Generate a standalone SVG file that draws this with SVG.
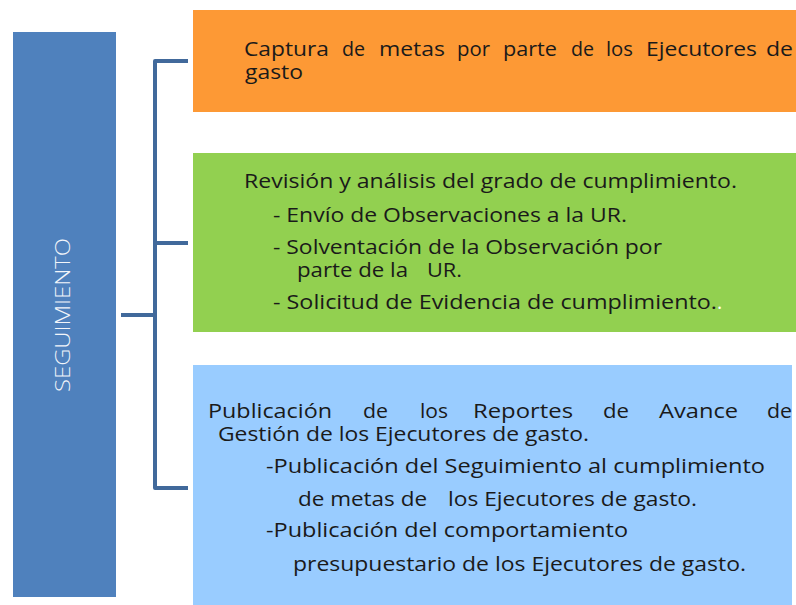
<svg xmlns="http://www.w3.org/2000/svg" width="796" height="605" viewBox="0 0 796 605">
<style>
.t{font-family:"Open Sans","Liberation Sans",sans-serif;font-size:20px;fill:#1a1a1a;white-space:pre}
.side{font-family:"Open Sans","Liberation Sans",sans-serif;font-size:20px;fill:#f2f5fa;font-weight:300}
.con{fill:none;stroke:#41699b;stroke-width:4;stroke-linejoin:round}
</style>
<rect width="796" height="605" fill="#ffffff"/>
<g id="seguimiento">
<rect x="13" y="32" width="103" height="565" fill="#4f81bd"/>
<text class="side" transform="translate(70,315) rotate(-90)" text-anchor="middle" textLength="154" lengthAdjust="spacingAndGlyphs">SEGUIMIENTO</text>
</g>
<g id="connectors">
<path class="con" d="M188,61 H155 V488 H188"/>
<path class="con" d="M155,243 H188"/>
<path class="con" d="M121,315 H155"/>
</g>
<g id="captura">
<rect x="193" y="10" width="603" height="102" fill="#fd9935"/>
<text class="t" y="56"><tspan x="244" textLength="85" lengthAdjust="spacingAndGlyphs">Captura</tspan><tspan x="342" textLength="23" lengthAdjust="spacingAndGlyphs">de</tspan><tspan x="379" textLength="66" lengthAdjust="spacingAndGlyphs">metas</tspan><tspan x="457" textLength="33" lengthAdjust="spacingAndGlyphs">por</tspan><tspan x="503" textLength="54" lengthAdjust="spacingAndGlyphs">parte</tspan><tspan x="571" textLength="23" lengthAdjust="spacingAndGlyphs">de</tspan><tspan x="606" textLength="27" lengthAdjust="spacingAndGlyphs">los</tspan><tspan x="646" textLength="111" lengthAdjust="spacingAndGlyphs">Ejecutores</tspan><tspan x="766" textLength="27" lengthAdjust="spacingAndGlyphs">de</tspan></text>
<text class="t" x="245" y="79" textLength="58" lengthAdjust="spacingAndGlyphs">gasto</text>
</g>
<g id="revision">
<rect x="193" y="153" width="603" height="179" fill="#92d050"/>
<text class="t" x="244" y="188" textLength="493" lengthAdjust="spacingAndGlyphs">Revisión y análisis del grado de cumplimiento.</text>
<text class="t" x="273" y="222" textLength="354" lengthAdjust="spacingAndGlyphs">- Envío de Observaciones a la UR.</text>
<text class="t" x="273" y="254" textLength="389" lengthAdjust="spacingAndGlyphs">- Solventación de la Observación por</text>
<text class="t" y="277"><tspan x="297" textLength="111" lengthAdjust="spacingAndGlyphs">parte de la</tspan><tspan x="427" textLength="35" lengthAdjust="spacingAndGlyphs">UR.</tspan></text>
<text class="t" x="273" y="309"><tspan textLength="444" lengthAdjust="spacingAndGlyphs">- Solicitud de Evidencia de cumplimiento.</tspan><tspan fill="#ffffff">.</tspan></text>
</g>
<g id="publicacion">
<rect x="193" y="365" width="599" height="240" fill="#99ccff"/>
<text class="t" y="418"><tspan x="208" textLength="124" lengthAdjust="spacingAndGlyphs">Publicación</tspan><tspan x="363" textLength="25" lengthAdjust="spacingAndGlyphs">de</tspan><tspan x="420" textLength="28" lengthAdjust="spacingAndGlyphs">los</tspan><tspan x="473" textLength="100" lengthAdjust="spacingAndGlyphs">Reportes</tspan><tspan x="603" textLength="26" lengthAdjust="spacingAndGlyphs">de</tspan><tspan x="659" textLength="79" lengthAdjust="spacingAndGlyphs">Avance</tspan><tspan x="767" textLength="25" lengthAdjust="spacingAndGlyphs">de</tspan></text>
<text class="t" x="218" y="441" textLength="371" lengthAdjust="spacingAndGlyphs">Gestión de los Ejecutores de gasto.</text>
<text class="t" x="266" y="473" textLength="499" lengthAdjust="spacingAndGlyphs">-Publicación del Seguimiento al cumplimiento</text>
<text class="t" y="506"><tspan x="298" textLength="129" lengthAdjust="spacingAndGlyphs">de metas de</tspan><tspan x="448" textLength="249" lengthAdjust="spacingAndGlyphs">los Ejecutores de gasto.</tspan></text>
<text class="t" x="266" y="537" textLength="362" lengthAdjust="spacingAndGlyphs">-Publicación del comportamiento</text>
<text class="t" x="293" y="571" textLength="453" lengthAdjust="spacingAndGlyphs">presupuestario de los Ejecutores de gasto.</text>
</g>
</svg>
